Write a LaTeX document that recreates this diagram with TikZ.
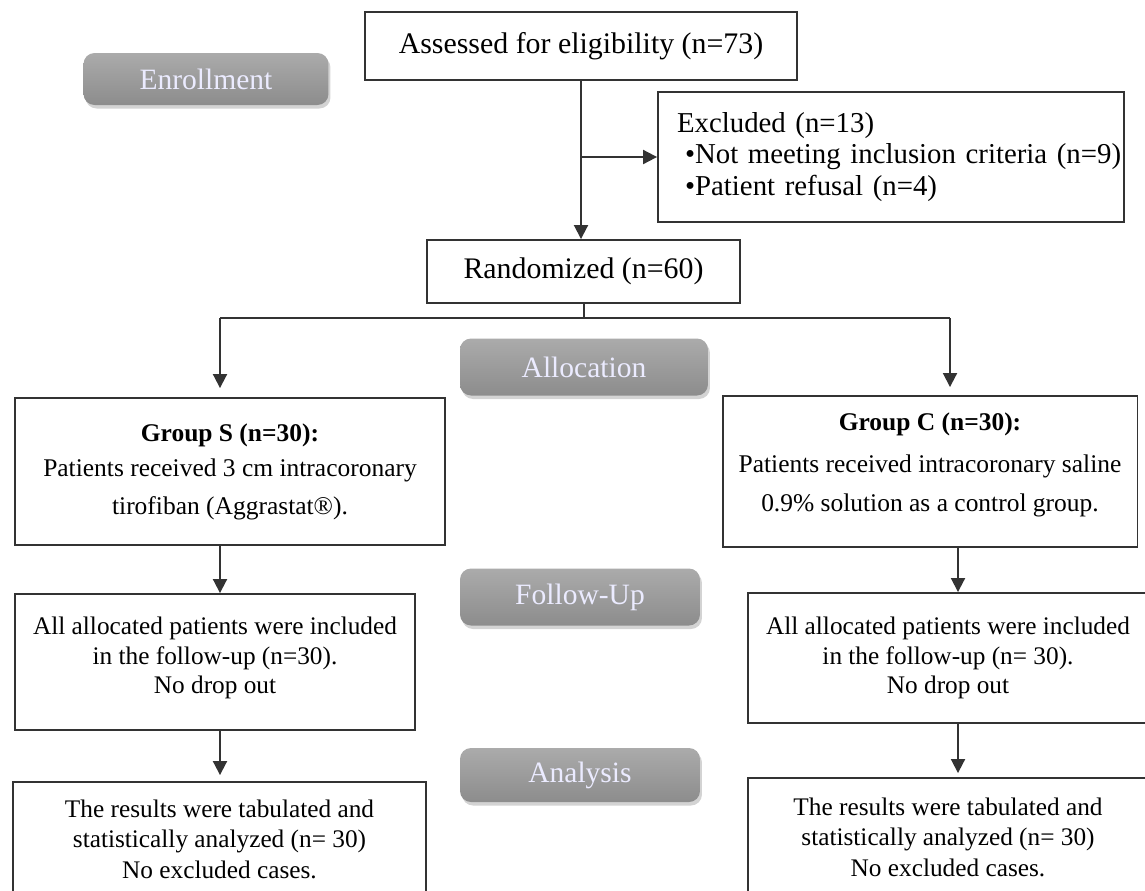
\documentclass[tikz,border=0pt]{standalone}
\usepackage{fontspec}
\setmainfont{Liberation Serif}
\usetikzlibrary{arrows.meta,shadows,calc}
\begin{document}
\begin{tikzpicture}[x=0.02cm,y=-0.02cm,
  box/.style={draw=black!80, line width=1.1pt, fill=white, align=center, inner sep=2pt,
    font=\fontsize{14.4}{16.6}\selectfont},
  stage/.style={rounded corners=0.22cm, top color=black!33, bottom color=black!45,
    draw=none, drop shadow={shadow xshift=0.04cm, shadow yshift=-0.07cm, opacity=0.35},
    text=white!92!blue, font=\fontsize{16.8}{20}\selectfont},
  conn/.style={line width=1.1pt, draw=black!80},
  arr/.style={conn, -{Triangle[length=0.28cm,width=0.28cm]}}]
\useasboundingbox (0,0) rectangle (1145,890);
% stage labels
\node[stage, minimum width=4.9cm, minimum height=1.04cm] (enr) at (206,79) {Enrollment};
\node[stage, minimum width=4.96cm, minimum height=1.14cm] (alloc) at (584,367) {Allocation};
\node[stage, minimum width=4.8cm, minimum height=1.14cm] (fup) at (580,597) {Follow-Up};
\node[stage, minimum width=4.8cm, minimum height=1.08cm] (ana) at (580,775) {Analysis};
% boxes
\node[box, minimum width=8.64cm, minimum height=1.36cm, font=\fontsize{17}{20}\selectfont] (assess) at (581,46) {Assessed for eligibility (n=73)};
\node[box, align=left, text width=8.56cm, minimum height=2.6cm, inner xsep=0.38cm, inner ysep=2pt,
  font=\fontsize{16.4}{18}\selectfont] (excl) at (891,157)
  {\mbox{Excluded (n=13)}\\\mbox{\hspace*{0.16cm}•Not meeting inclusion criteria (n=9)}\\\mbox{\hspace*{0.16cm}•Patient refusal (n=4)}};
\node[box, minimum width=6.26cm, minimum height=1.26cm, font=\fontsize{17}{20}\selectfont] (rand) at (583.5,271.5) {Randomized (n=60)};
\node[box, minimum width=8.6cm, minimum height=2.94cm, font=\fontsize{14.5}{21.6}\selectfont] (gs) at (230,471.5)
  {\textbf{Group S (n=30):}\\[-0.06cm]Patients received 3 cm intracoronary\\tirofiban (Aggrastat®).};
\node[box, minimum width=8.3cm, minimum height=3.02cm, text depth=0.36cm, font=\fontsize{14.5}{22.2}\selectfont] (gc) at (930,471.5)
  {\textbf{Group C (n=30):}\\[0.06cm]Patients received intracoronary saline\\0.9\% solution as a control group.};
\node[box, minimum width=8.0cm, minimum height=2.72cm, text depth=0.27cm] (fl) at (215,662)
  {All allocated patients were included\\in the follow-up (n=30).\\No drop out};
\node[box, minimum width=8.0cm, minimum height=2.6cm] (fr) at (948,658)
  {All allocated patients were included\\in the follow-up (n= 30).\\No drop out};
\node[box, minimum width=8.26cm, minimum height=2.28cm, font=\fontsize{14.4}{17.4}\selectfont] (al) at (219.5,839)
  {The results were tabulated and\\statistically analyzed (n= 30)\\No excluded cases.};
\node[box, minimum width=8.0cm, minimum height=2.36cm, font=\fontsize{14.4}{17.4}\selectfont] (ar) at (948,837)
  {The results were tabulated and\\statistically analyzed (n= 30)\\No excluded cases.};
% connectors
\draw[arr] (assess.south) -- (assess.south |- rand.north);
\coordinate (br) at (assess.south |- excl.west);
\draw[arr] (br) -- (excl.west);
\coordinate (split) at (584,318);
\coordinate (jL) at (220,318);
\coordinate (jR) at (950,318);
\draw[conn] (split |- rand.south) -- (split);
\draw[conn] (jL) -- (jR);
\draw[arr, shorten >=0.18cm] (jL) -- (jL |- gs.north);
\draw[arr, shorten >=0.16cm] (jR) -- (jR |- gc.north);
\coordinate (sL) at (220,0);
\coordinate (sR) at (958,0);
\draw[arr] (sL |- gs.south) -- (sL |- fl.north);
\draw[arr] (sR |- gc.south) -- (sR |- fr.north);
\draw[arr, shorten >=0.12cm] (sL |- fl.south) -- (sL |- al.north);
\draw[arr, shorten >=0.08cm] (sR |- fr.south) -- (sR |- ar.north);
\end{tikzpicture}
\end{document}
